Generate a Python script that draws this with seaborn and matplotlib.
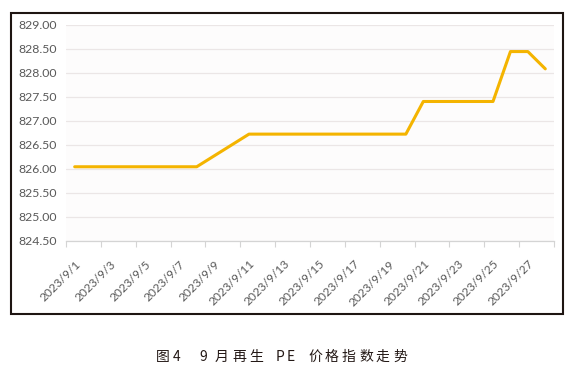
import pandas as pd
import matplotlib.pyplot as plt
import matplotlib.dates as mdates
import matplotlib.transforms as mtransforms
from matplotlib.patches import Rectangle
import seaborn as sns

# trading days of Sept 2023 (weekends have no quote)
dates = ['2023-09-01',
         '2023-09-04', '2023-09-05', '2023-09-06', '2023-09-07', '2023-09-08',
         '2023-09-11', '2023-09-12', '2023-09-13', '2023-09-14', '2023-09-15',
         '2023-09-18', '2023-09-19', '2023-09-20', '2023-09-21', '2023-09-22',
         '2023-09-25', '2023-09-26', '2023-09-27', '2023-09-28']
prices = [826.04,
          826.04, 826.04, 826.04, 826.04, 826.04,
          826.72, 826.72, 826.72, 826.72, 826.72,
          826.72, 826.72, 826.72, 827.40, 827.40,
          827.40, 828.44, 828.44, 828.08]
y_ticks = [824.5, 825.0, 825.5, 826.0, 826.5, 827.0, 827.5, 828.0, 828.5, 829.0]
caption = '图4   9 月再生  PE  价格指数走势'

df = pd.DataFrame({'date': pd.to_datetime(dates), 'price': prices})

sns.set_theme(style='white')
plt.rcParams['font.family'] = ['Lato', 'Noto Sans CJK SC', 'DejaVu Sans']

fig = plt.figure(figsize=(5.87, 3.81), dpi=100)
ax = fig.add_axes([0.1124, 0.3683, 0.8314, 0.5669])
ax.set_facecolor('#fdfcfc')

sns.lineplot(data=df, x='date', y='price', ax=ax, color='#f4b400', linewidth=2.2)

start = pd.Timestamp('2023-09-01')
end = pd.Timestamp('2023-09-28')
half = pd.Timedelta(hours=12)
ax.set_xlim(mdates.date2num(start - half), mdates.date2num(end + half))
ax.set_ylim(y_ticks[0], y_ticks[-1])

# labels every second day, tick marks on the category boundaries
label_days = pd.date_range(start, end, freq='2D')
mark_days = pd.date_range(start - half, end + half, freq='2D')
ax.set_xticks(mdates.date2num(label_days))
ax.set_xticklabels([f'{d.year}/{d.month}/{d.day}' for d in label_days])
ax.set_xticks(mdates.date2num(mark_days), minor=True)
ax.tick_params(axis='x', which='major', length=0, pad=15.5, labelsize=8.6, labelcolor='#595959')
ax.tick_params(axis='x', which='minor', length=4, width=0.8, color='#d4d4d4', direction='out', bottom=True)
offset = mtransforms.ScaledTranslation(4 / 100, 0, fig.dpi_scale_trans)
for lbl in ax.get_xticklabels():
    lbl.set_rotation(45)
    lbl.set_ha('right')
    lbl.set_va('center')
    lbl.set_rotation_mode('anchor')
    lbl.set_transform(lbl.get_transform() + offset)

ax.set_yticks(y_ticks)
ax.set_yticklabels([f'{v:.2f}' for v in y_ticks])
ax.tick_params(axis='y', length=0, pad=6.5, labelsize=8.8, labelcolor='#595959')

ax.grid(axis='y', color='#ebe6e6', linewidth=0.9)
ax.grid(axis='x', visible=False)
for side in ['top', 'right', 'left']:
    ax.spines[side].set_visible(False)
ax.spines['bottom'].set_color('#d4d4d4')
ax.spines['bottom'].set_linewidth(0.9)
ax.set_xlabel('')
ax.set_ylabel('')

# black frame round the chart
fig.patches.append(Rectangle((0.0187, 0.175), 0.9399, 0.7916, transform=fig.transFigure,
                             fill=False, edgecolor='#1e1512', linewidth=1.5))

# caption, set with wide letter spacing like the source document
x_px = 156
for ch in caption:
    if ch != ' ':
        fig.text(x_px / 587, 0.064, ch, ha='left', va='center', fontsize=10,
                 color='#231815', family=['Noto Sans CJK SC', 'DejaVu Sans'])
    if ch == ' ':
        x_px += 5
    elif ch.isascii():
        x_px += 11
    else:
        x_px += 17

fig.savefig('out.png', dpi=100)
